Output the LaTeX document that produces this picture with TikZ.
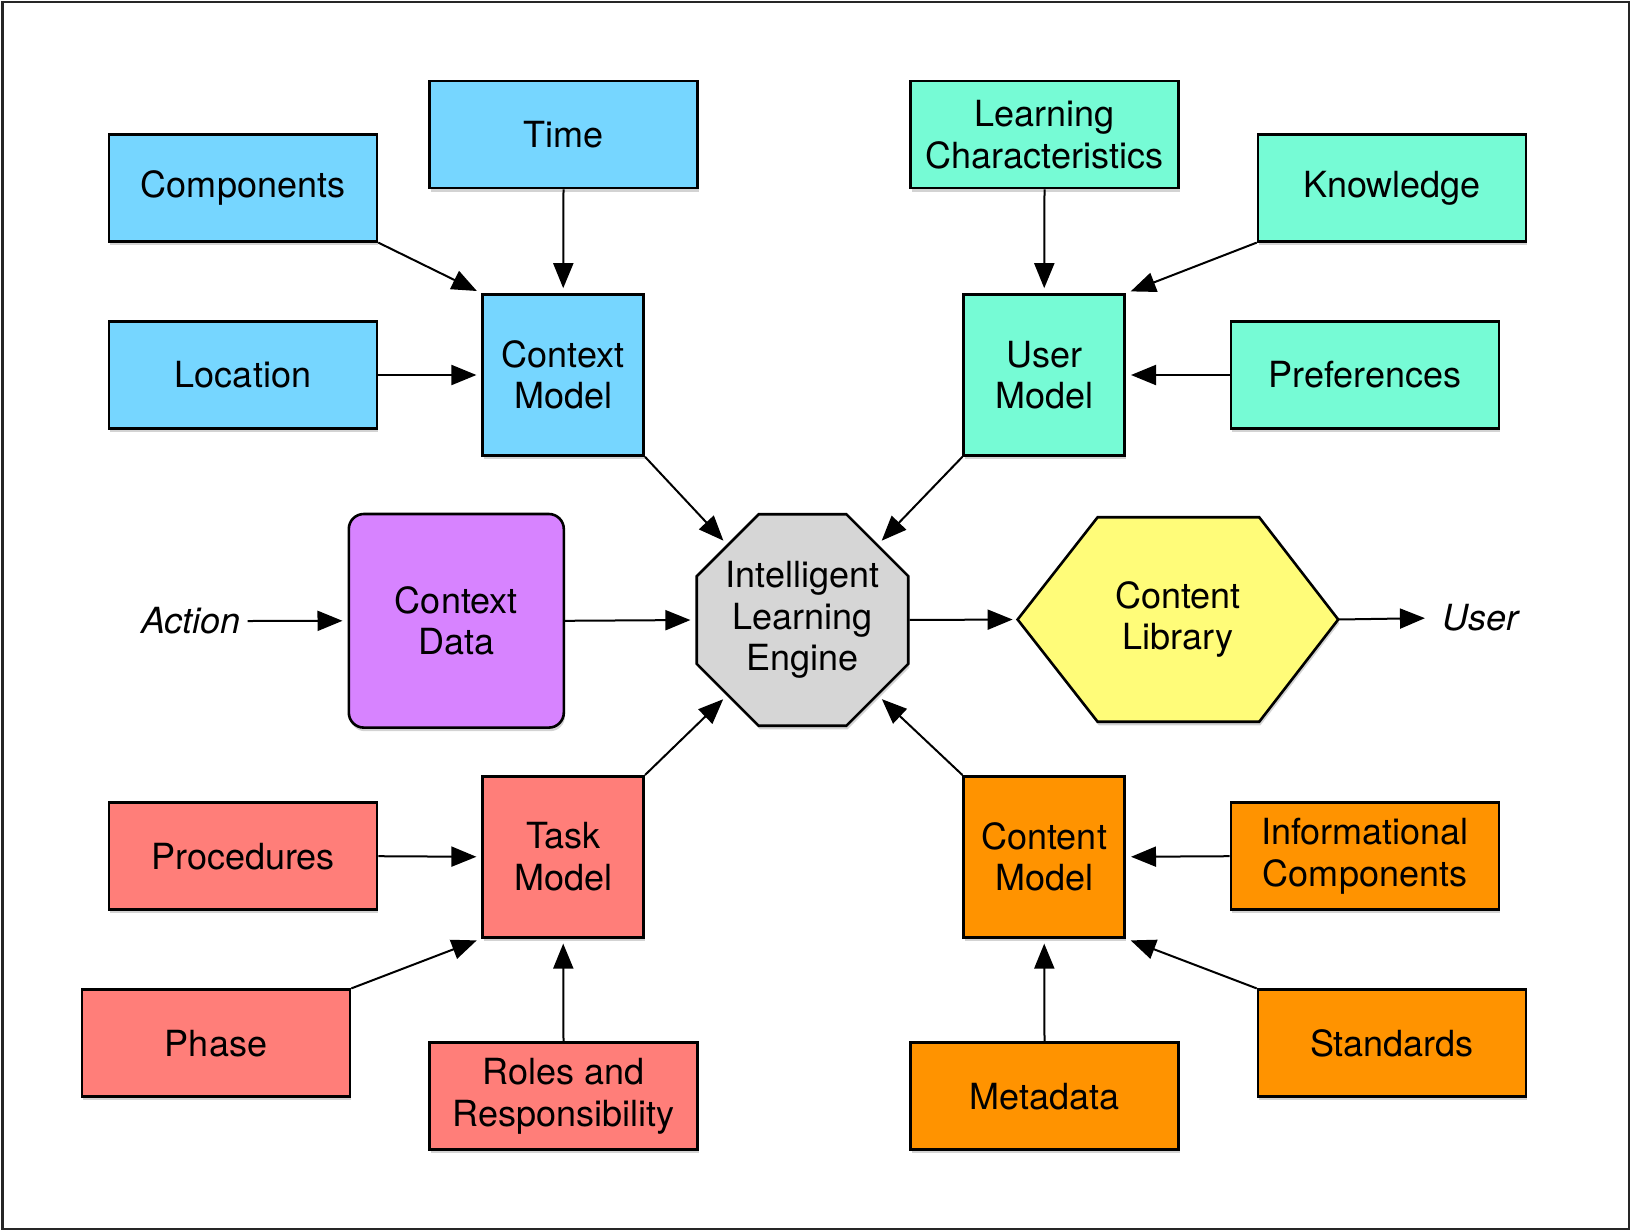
\documentclass[tikz,border=0pt]{standalone}
\usepackage{fontspec}
\setmainfont{TeX Gyre Heros}
\usetikzlibrary{shapes.geometric,arrows.meta,shadows,calc}
\definecolor{sky}{HTML}{76D6FF}
\definecolor{mint}{HTML}{76FBD5}
\definecolor{lav}{HTML}{D783FF}
\definecolor{silver}{HTML}{D6D6D6}
\definecolor{banana}{HTML}{FFFC79}
\definecolor{salmon}{HTML}{FF7E79}
\definecolor{tang}{HTML}{FF9300}
\begin{document}
\begin{tikzpicture}[x=0.5pt,y=-0.5pt,
  every node/.style={font=\fontsize{18}{20.8}\selectfont, align=center},
  base/.style={draw=black, line width=1.3pt, inner sep=0pt,
    drop shadow={shadow xshift=0.6pt, shadow yshift=-1.8pt, opacity=0.35}},
  wbox/.style={base, rectangle, minimum width=134pt, minimum height=53.5pt},
  sbox/.style={base, rectangle, minimum width=80.5pt, minimum height=80.5pt},
  arr/.style={line width=1pt, -{Triangle[length=12.5pt,width=10pt]}, shorten >=2.5pt},
  itlabel/.style={font=\fontsize{18}{20.8}\selectfont\itshape}
]
\useasboundingbox (0,0) rectangle (1631,1231);
\draw[line width=1.2pt, draw=black!85] (2.5,2) rectangle (1629,1229);

% context (blue)
\node[wbox, fill=sky] (comp) at (243,187.8) {Components};
\node[wbox, fill=sky] (time) at (563.5,134.6) {Time};
\node[sbox, fill=sky] (cm) at (563.2,375) {Context\\Model};
\node[wbox, fill=sky] (loc) at (243,375) {Location};

% user (mint)
\node[wbox, fill=mint] (lc) at (1044.5,134.6) {Learning\\Characteristics};
\node[wbox, fill=mint] (know) at (1392,187.8) {Knowledge};
\node[sbox, fill=mint] (um) at (1044.2,375) {User\\Model};
\node[wbox, fill=mint] (pref) at (1365,375) {Preferences};

% middle row
\node[itlabel] (act) at (190.8,621) {Action};
\node[base, fill=lav, rounded corners=7.5pt, minimum width=107.5pt, minimum height=106.8pt] (cd) at (456.3,620.8) {Context\\Data};
\node[base, inner sep=-6pt, fill=silver, regular polygon, regular polygon sides=8, minimum size=114.5pt] (eng) at (802.5,620) {Intelligent\\Learning\\Engine};
\path node[minimum width=160.3pt, minimum height=102.25pt, inner sep=0pt, outer sep=0pt] (lib) at (1177.9,619.5) {};
\draw[line width=1.3pt, fill=banana, drop shadow={shadow xshift=0.6pt, shadow yshift=-1.8pt, opacity=0.35}]
  (lib.west) -- ($(lib.north west)+(80,0)$) -- ($(lib.north east)+(-79,0)$) -- (lib.east)
  -- ($(lib.south east)+(-79,0)$) -- ($(lib.south west)+(80,0)$) -- cycle;
\node (libtext) at (lib.center) {Content\\Library};
\node[itlabel] (user) at (1480,618) {User};

% task (salmon)
\node[sbox, fill=salmon] (tm) at (563.2,856.8) {Task\\Model};
\node[wbox, fill=salmon] (proc) at (243,856.2) {Procedures};
\node[wbox, fill=salmon] (phase) at (216,1043.2) {Phase};
\node[wbox, fill=salmon] (roles) at (563.5,1096.2) {Roles and\\Responsibility};

% content (orange)
\node[sbox, fill=tang] (com) at (1044.2,856.8) {Content\\Model};
\node[wbox, fill=tang] (ic) at (1365,856.2) {Informational\\Components};
\node[wbox, fill=tang] (std) at (1392,1043.2) {Standards};
\node[wbox, fill=tang] (meta) at (1044.5,1096.2) {Metadata};

% connectors
\draw[arr] (comp.south east) -- (cm.north west);
\draw[arr] (time.south) -- (cm.north);
\draw[arr] (loc.east) -- (cm.west);
\draw[arr] (cm.south east) -- (eng.135);
\draw[arr] (lc.south) -- (um.north);
\draw[arr] (know.south west) -- (um.north east);
\draw[arr] (pref.west) -- (um.east);
\draw[arr] (um.south west) -- (eng.45);
\draw[arr] (act.east) -- (cd.west);
\draw[arr] (cd.east) -- (eng.west);
\draw[arr] (eng.east) -- (lib.west);
\draw[arr, shorten >=5pt] (lib.east) -- (user.west);
\draw[arr] (tm.north east) -- (eng.225);
\draw[arr] (proc.east) -- (tm.west);
\draw[arr] (phase.north east) -- (tm.south west);
\draw[arr] (roles.north) -- (tm.south);
\draw[arr] (com.north west) -- (eng.315);
\draw[arr] (ic.west) -- (com.east);
\draw[arr] (std.north west) -- (com.south east);
\draw[arr] (meta.north) -- (com.south);
\end{tikzpicture}
\end{document}
